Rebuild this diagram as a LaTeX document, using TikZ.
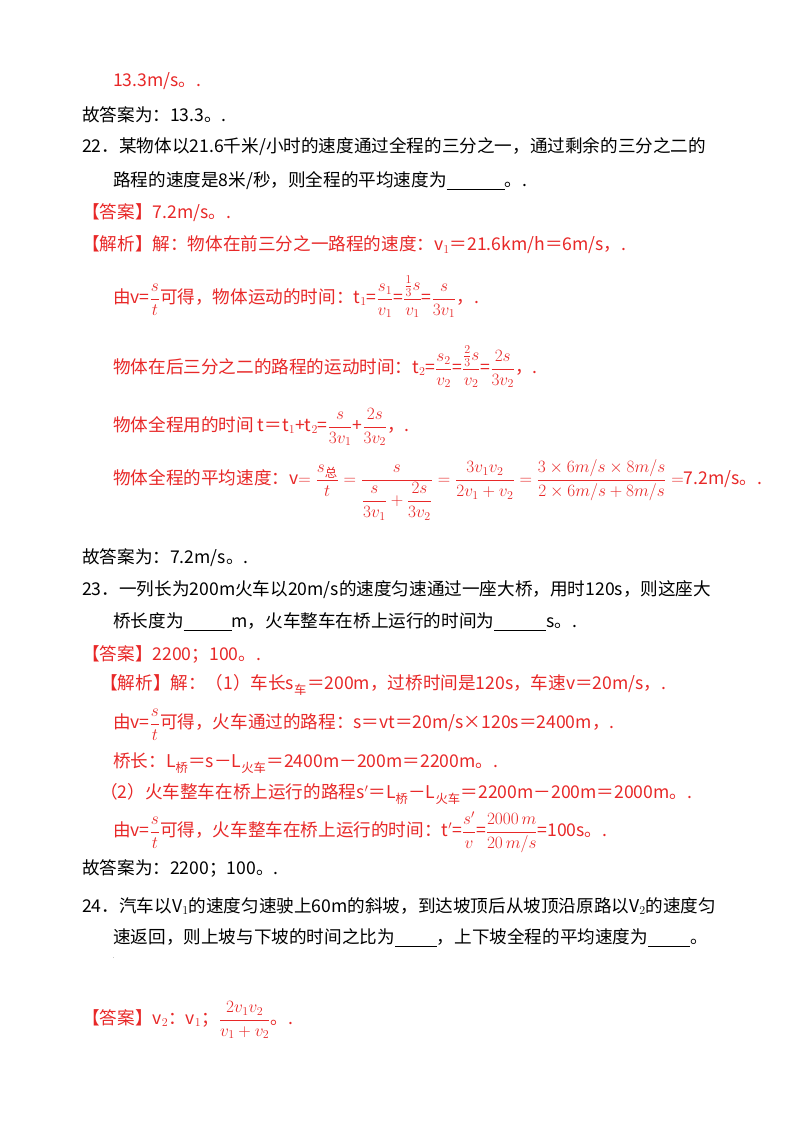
\documentclass[tikz,border=0pt]{standalone}
\usepackage{amsmath}
\usepackage{fontspec}
\setmainfont{Noto Sans CJK SC}
\definecolor{rd}{RGB}{232,40,40}
\begin{document}
\begin{tikzpicture}[x=1pt,y=-1pt,
  t/.style={anchor=west,inner sep=0pt,font=\fontsize{17.6}{20}\selectfont},
  r/.style={t,text=rd}]
\useasboundingbox[fill=white] (0,0) rectangle (800,1132);
\newcommand{\bl}[1]{\underline{\hspace{#1pt}}}
\node[r] (a1) at (113,81) {13.3m/s。.};
\node[t] (a2) at (82,115) {故答案为：13.3。.};
\node[t] (a3) at (82,147) {22．某物体以21.6千米/小时的速度通过全程的三分之一，通过剩余的三分之二的};
\node[t] (a4) at (113,181) {路程的速度是8米/秒，则全程的平均速度为\bl{58}。.};
\node[r] (a5) at (82,213) {【答案】7.2m/s。.};
\node[r] (a6) at (82,245) {【解析】解：物体在前三分之一路程的速度：v$_1$＝21.6km/h＝6m/s，.};
\node[r] (a7) at (113,297) {由v=$\dfrac{s}{t}$可得，物体运动的时间：t$_1$=$\dfrac{s_1}{v_1}$=$\dfrac{\frac13 s}{v_1}$=$\dfrac{s}{3v_1}$，.};
\node[r] (a8) at (113,367) {物体在后三分之二的路程的运动时间：t$_2$=$\dfrac{s_2}{v_2}$=$\dfrac{\frac23 s}{v_2}$=$\dfrac{2s}{3v_2}$，.};
\node[r] (a9) at (113,427) {物体全程用的时间 t＝t$_1$+t$_2$=$\dfrac{s}{3v_1}$+$\dfrac{2s}{3v_2}$，.};
\node[r] (a10) at (113,490) {物体全程的平均速度：v$=\dfrac{s_{\text{总}}}{t}=\dfrac{s}{\dfrac{s}{3v_1}+\dfrac{2s}{3v_2}}=\dfrac{3v_1v_2}{2v_1+v_2}=\dfrac{3\times6m/s\times8m/s}{2\times6m/s+8m/s}=$7.2m/s。.};
\node[t] (a11) at (82,558) {故答案为：7.2m/s。.};
\node[t] (b1) at (82,590) {23．一列长为200m火车以20m/s的速度匀速通过一座大桥，用时120s，则这座大};
\node[t] (b2) at (113,622) {桥长度为\bl{48}m，火车整车在桥上运行的时间为\bl{52}s。.};
\node[r] (b3) at (82,654) {【答案】2200；100。.};
\node[r] (b4) at (100,685) {【解析】解：（1）车长s$_{\text{车}}$＝200m，过桥时间是120s，车速v＝20m/s，.};
\node[r] (b5) at (113,725) {由v=$\dfrac{s}{t}$可得，火车通过的路程：s＝vt＝20m/s×120s＝2400m，.};
\node[r] (b6) at (113,763) {桥长：L$_{\text{桥}}$＝s－L$_{\text{火车}}$＝2400m－200m＝2200m。.};
\node[r] (b7) at (100,794) {（2）火车整车在桥上运行的路程s$'$＝L$_{\text{桥}}$－L$_{\text{火车}}$＝2200m－200m＝2000m。.};
\node[r] (b8) at (113,832) {由v=$\dfrac{s}{t}$可得，火车整车在桥上运行的时间：t$'$=$\dfrac{s'}{v}$=$\dfrac{2000\,m}{20\,m/s}$=100s。.};
\node[t] (b9) at (82,868) {故答案为：2200；100。.};
\node[t] (c1) at (82,906) {24．汽车以V$_1$的速度匀速驶上60m的斜坡，到达坡顶后从坡顶沿原路以V$_2$的速度匀};
\node[t] (c2) at (113,938) {速返回，则上坡与下坡的时间之比为\bl{42}，上下坡全程的平均速度为\bl{42}。};
\node[t,font=\tiny] (c3) at (113,958) {.};
\node[r] (c4) at (82,1020) {【答案】v$_2$：v$_1$；$\dfrac{2v_1v_2}{v_1+v_2}$。.};
\end{tikzpicture}
\end{document}
